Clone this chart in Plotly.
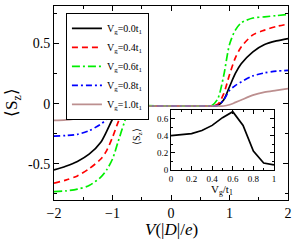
import plotly.graph_objects as go

V = [-2.0, -1.8, -1.6, -1.4, -1.2, -1.1, -1.0, -0.9, -0.8, -0.7, -0.6, 0.0,
     0.6, 0.7, 0.8, 0.9, 1.0, 1.1, 1.2, 1.4, 1.6, 1.8, 2.0]
s_vg00 = [-0.55, -0.52, -0.48, -0.42, -0.32, -0.23, -0.13, -0.05, -0.022, -0.02, -0.02, -0.02,
          -0.02, -0.02, -0.015, 0.03, 0.14, 0.25, 0.33, 0.43, 0.49, 0.52, 0.54]
s_vg04 = [-0.66, -0.635, -0.60, -0.54, -0.46, -0.39, -0.28, -0.15, -0.05, -0.022, -0.02, -0.02,
          -0.02, -0.02, -0.005, 0.08, 0.24, 0.38, 0.47, 0.57, 0.61, 0.64, 0.66]
s_vg06 = [-0.73, -0.725, -0.71, -0.68, -0.61, -0.55, -0.46, -0.31, -0.16, -0.035, -0.02, -0.02,
          -0.02, -0.015, 0.04, 0.23, 0.49, 0.61, 0.67, 0.71, 0.72, 0.73, 0.74]
s_vg08 = [-0.27, -0.265, -0.255, -0.225, -0.17, -0.13, -0.075, -0.035, -0.022, -0.02, -0.02, -0.02,
          -0.02, -0.02, -0.015, 0.03, 0.11, 0.15, 0.18, 0.23, 0.255, 0.27, 0.275]
s_vg10 = [-0.14, -0.135, -0.125, -0.10, -0.06, -0.045, -0.03, -0.024, -0.022, -0.02, -0.02, -0.02,
          -0.02, -0.02, -0.02, -0.02, -0.01, 0.01, 0.03, 0.07, 0.095, 0.11, 0.125]

inset_vg = [0.0, 0.1, 0.2, 0.3, 0.4, 0.5, 0.6, 0.7, 0.8, 0.9, 1.0]
inset_s = [0.40, 0.41, 0.424, 0.46, 0.52, 0.61, 0.68, 0.52, 0.22, 0.08, 0.06]

main_xticks = [-2, -1, 0, 1, 2]
main_yticks = [-0.5, 0, 0.5]
main_yticklabels = ["-0.5", "0", "0.5"]
inset_xticks = [0, 0.2, 0.4, 0.6, 0.8, 1]
inset_xticklabels = ["0", "0.2", "0.4", "0.6", "0.8", "1"]
inset_yticks = [0, 0.2, 0.4, 0.6]
inset_yticklabels = ["0", "0.2", "0.4", "0.6"]

names = ["V<sub>g</sub>=0.0t<sub>1</sub>", "V<sub>g</sub>=0.4t<sub>1</sub>",
         "V<sub>g</sub>=0.6t<sub>1</sub>", "V<sub>g</sub>=0.8t<sub>1</sub>",
         "V<sub>g</sub>=1.0t<sub>1</sub>"]
series = [s_vg00, s_vg04, s_vg06, s_vg08, s_vg10]
colors = ["#000000", "#ff0000", "#00ee00", "#0000ff", "#bc8f8f"]
dashes = ["solid", "6px,4px", "8px,3px,2px,3px", "6px,3px,2px,3px", "solid"]

FONT = "Liberation Serif"
fig = go.Figure()
for n, s, c, d in zip(names, series, colors, dashes):
    fig.add_trace(go.Scatter(x=V, y=s, mode="lines", name=n,
                             line=dict(color=c, width=1.7, dash=d, shape="spline", smoothing=0.8)))

fig.add_trace(go.Scatter(x=inset_vg, y=inset_s, mode="lines", showlegend=False,
                         line=dict(color="black", width=1.7), xaxis="x2", yaxis="y2"))

axcommon = dict(showgrid=False, zeroline=False, showline=True, linecolor="black",
                linewidth=1, mirror="ticks", ticks="inside", tickcolor="black",
                automargin=False)

fig.update_layout(
    width=295, height=241,
    margin=dict(l=54, r=7, t=6, b=41),
    paper_bgcolor="white", plot_bgcolor="white",
    font=dict(family=FONT, color="black"),
    xaxis=dict(range=[-2, 2], tickvals=main_xticks, ticklen=5,
               minor=dict(dtick=0.5, ticks="inside", ticklen=3, tickcolor="black"),
               tickfont=dict(size=14),
               **axcommon),
    yaxis=dict(range=[-0.8, 0.81], tickvals=main_yticks, ticktext=main_yticklabels,
               ticklen=5,
               minor=dict(tickvals=[-0.75, -0.25, 0.25, 0.75], ticks="inside", ticklen=3, tickcolor="black"),
               tickfont=dict(size=14),
               **axcommon),
    xaxis2=dict(domain=[0.5, 0.94], anchor="y2", range=[0, 1], tickvals=inset_xticks,
                ticktext=inset_xticklabels, ticklen=4,
                minor=dict(dtick=0.1, ticks="inside", ticklen=2, tickcolor="black"),
                tickfont=dict(size=9),
                **axcommon),
    yaxis2=dict(domain=[0.155, 0.464], anchor="x2", range=[0, 0.7], tickvals=inset_yticks,
                ticktext=inset_yticklabels, ticklen=4,
                minor=dict(dtick=0.1, ticks="inside", ticklen=2, tickcolor="black"),
                tickfont=dict(size=9),
                **axcommon),
    legend=dict(x=0.051, y=0.965, xanchor="left", yanchor="top",
                bgcolor="white", bordercolor="black", borderwidth=1,
                font=dict(size=10, family=FONT), tracegroupgap=0, itemwidth=30),
    showlegend=True,
    annotations=[
        dict(text="<i>V</i>(|<i>D</i>|/<i>e</i>)", xref="paper", yref="paper",
             x=0.5, y=0, yshift=-29, xanchor="center", yanchor="middle",
             showarrow=False, font=dict(size=17, family=FONT)),
        dict(text="⟨S<sub>z</sub>⟩", xref="paper", yref="paper",
             x=-0.175, y=0.5, xanchor="center", yanchor="middle", textangle=-90,
             showarrow=False, font=dict(size=17, family=FONT)),
        dict(text="V<sub>g</sub>/t<sub>1</sub>", xref="x2 domain", yref="paper",
             x=0.5, y=0, yshift=10, xanchor="center", yanchor="middle",
             showarrow=False, font=dict(size=11, family=FONT)),
        dict(text="⟨S<sub>z</sub>⟩", xref="paper", yref="paper",
             x=0.359, y=0.325, xanchor="center", yanchor="middle", textangle=-90,
             showarrow=False, font=dict(size=10, family=FONT)),
    ],
)

fig.write_html("out.html", config={"displayModeBar": False},
               post_script="document.body.style.margin='0';")
